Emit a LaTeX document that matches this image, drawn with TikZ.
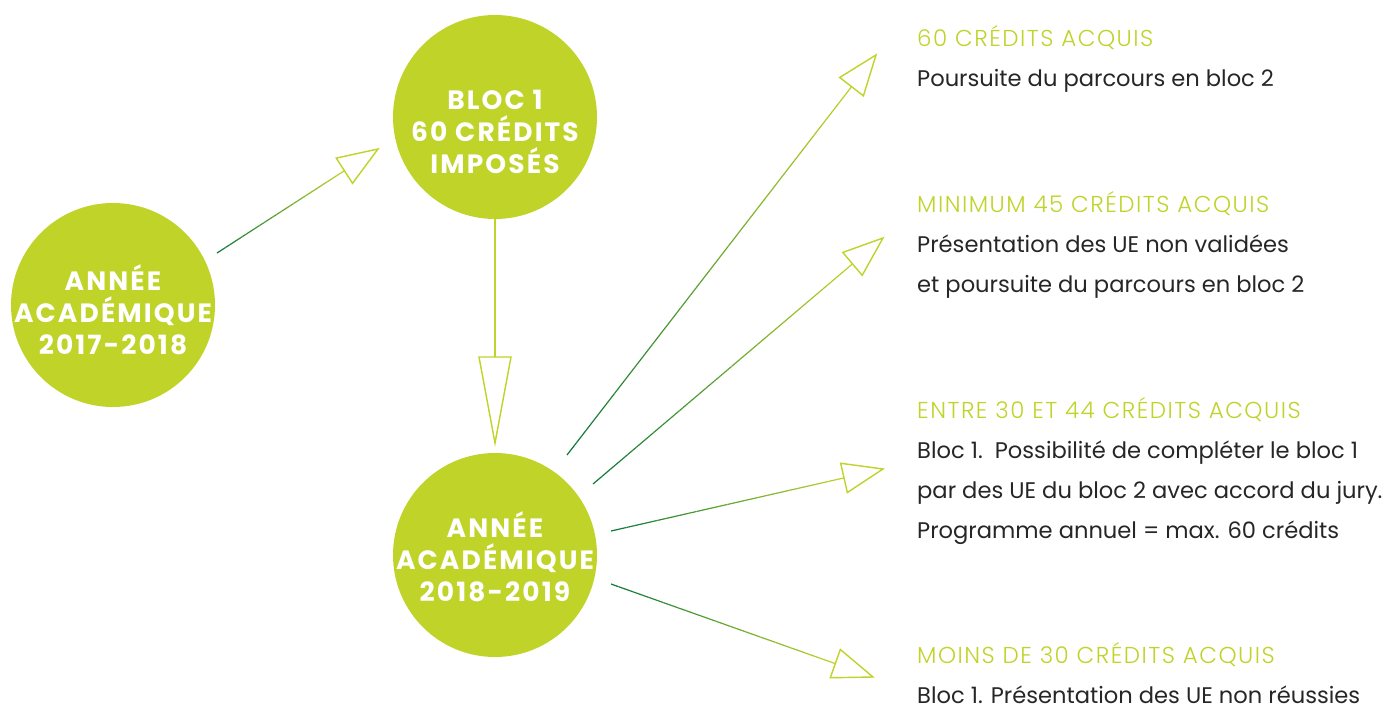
\documentclass[tikz,border=0pt]{standalone}
\usepackage{fontspec}
\setmainfont{Poppins}
\newfontfamily\circfont{Poppins}[LetterSpace=8]
\newfontfamily\headfont{Poppins Light}[LetterSpace=6.5]
\usetikzlibrary{calc,positioning}

\definecolor{lime}{RGB}{191,211,41}
\definecolor{darkgreen}{RGB}{10,118,58}
\definecolor{bodygray}{RGB}{38,38,38}

\newcommand\head[1]{{\headfont\fontsize{23}{40}\selectfont\textcolor{lime}{#1}}}

% thin line going from dark green to lime, open triangle at the end
\newcommand\gradarrow[5]{%
  \coordinate (hb) at ($(#2)!#3!(#1)$);
  \foreach \k in {1,...,30}{
    \pgfmathsetmacro\fa{(\k-1)/30}
    \pgfmathsetmacro\fb{\k/30}
    \pgfmathsetmacro\mix{(\k-0.5)*100/30}
    \draw[line width=1.2pt, color=lime!\mix!#5] ($(#1)!\fa!(hb)$) -- ($(#1)!\fb!(hb)$);
  }
  \draw[openhead] (#2) -- ($(hb)!#4!90:(#2)$) -- ($(hb)!#4!-90:(#2)$) -- cycle;
}

\begin{document}
\begin{tikzpicture}[x=1pt,y=-1pt,
    circ/.style={circle, fill=lime, minimum size=204pt, inner sep=0pt},
    circtext/.style={text=white, align=center, font=\circfont\bfseries\fontsize{26.5}{32}\selectfont},
    result/.style={anchor=base west, align=left, inner sep=0pt, text=bodygray, font=\fontsize{22.6}{40}\selectfont},
    openhead/.style={draw=lime, fill=white, line width=1.4pt, line join=miter}]
  \useasboundingbox (0,0) rectangle (1385,706);

  \begin{scope}
    \node[circ] (an1) at (113,305) {};
    \node[circ] (bloc) at (495,117) {};
    \node[circ] (an2) at (495,555) {};
  \end{scope}

  \node[circtext] (an1txt) at (113,310) {ANNÉE\\ACADÉMIQUE\\2017-2018};
  \node[circtext] (bloctxt) at (495,132) {BLOC 1\\60 CRÉDITS\\IMPOSÉS};
  \node[circtext] (an2txt) at (495,557) {ANNÉE\\ACADÉMIQUE\\2018-2019};

  % base anchor sits on the last line
  \node[result] (r60) at (917,87) {\head{60 CRÉDITS ACQUIS}\\Poursuite du parcours en bloc 2};
  \node[result] (r45) at (917,292) {\head{MINIMUM 45 CRÉDITS ACQUIS}\\Présentation des UE non validées\\et poursuite du parcours en bloc 2};
  \node[result] (r30) at (917,538) {\head{ENTRE 30 ET 44 CRÉDITS ACQUIS}\\Bloc 1.\ \ Possibilité de compléter le bloc 1\\par des UE du bloc 2 avec accord du jury.\\Programme annuel = max. 60 crédits};
  \node[result] (r0) at (917,703) {\head{MOINS DE 30 CRÉDITS ACQUIS}\\Bloc 1. Présentation des UE non réussies};

  \coordinate (s1) at (217,253);  \coordinate (t1) at (378,149);
  \coordinate (vb) at (495,357);  \coordinate (t2) at (495,443);
  \coordinate (s3) at (567,455);  \coordinate (t3) at (876,55);
  \coordinate (s4) at (593,484);  \coordinate (t4) at (883,238);
  \coordinate (s5) at (611,531);  \coordinate (t5) at (883,469);
  \coordinate (s6) at (611,584);  \coordinate (t6) at (873,677);

  \gradarrow{s1}{t1}{40pt}{15pt}{darkgreen}
  \draw[lime, line width=1.4pt] (bloc.south) -- (vb);
  \draw[openhead] (t2) -- ($(vb)!16pt!90:(t2)$) -- ($(vb)!16pt!-90:(t2)$) -- cycle;
  \gradarrow{s3}{t3}{40pt}{15pt}{darkgreen}
  \gradarrow{s4}{t4}{40pt}{15pt}{darkgreen}
  \gradarrow{s5}{t5}{40pt}{15pt}{darkgreen}
  \gradarrow{s6}{t6}{40pt}{15pt}{darkgreen}
\end{tikzpicture}
\end{document}
